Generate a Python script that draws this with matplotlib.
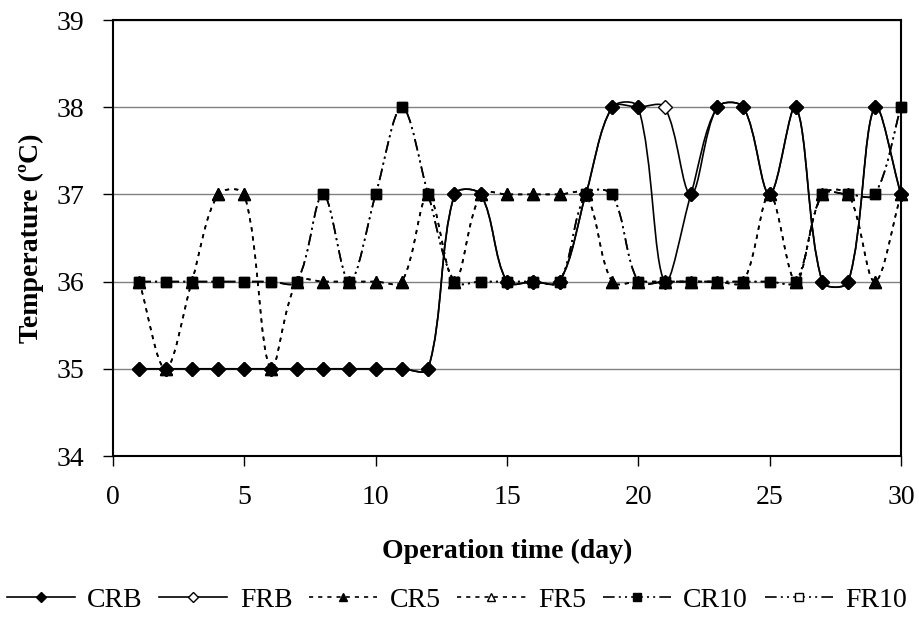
import numpy as np
import matplotlib
matplotlib.use("Agg")
import matplotlib.pyplot as plt
from matplotlib.path import Path
from matplotlib.patches import PathPatch
from matplotlib.lines import Line2D

plt.rcParams['font.family'] = ['Liberation Serif', 'DejaVu Serif']

days = list(range(1, 31))
CRB = [35, 35, 35, 35, 35, 35, 35, 35, 35, 35, 35, 35, 37, 37, 36, 36, 36, 37, 38, 38,
       36, 37, 38, 38, 37, 38, 36, 36, 38, 37]
FRB = [35, 35, 35, 35, 35, 35, 35, 35, 35, 35, 35, 35, 37, 37, 36, 36, 36, 37, 38, 38,
       38, 37, 38, 38, 37, 38, 36, 36, 38, 37]
CR5 = [36, 35, 36, 37, 37, 35, 36, 36, 36, 36, 36, 37, 36, 37, 37, 37, 37, 37, 36, 36,
       36, 36, 36, 36, 37, 36, 37, 37, 36, 37]
FR5 = list(CR5)
CR10 = [36, 36, 36, 36, 36, 36, 36, 37, 36, 37, 38, 37, 36, 36, 36, 36, 36, 37, 37, 36,
        36, 36, 36, 36, 36, 36, 37, 37, 37, 38]
FR10 = list(CR10)

series_names = ['CRB', 'FRB', 'CR5', 'FR5', 'CR10', 'FR10']
series_vals = [CRB, FRB, CR5, FR5, CR10, FR10]

x_ticks = [0, 5, 10, 15, 20, 25, 30]
y_ticks = [34, 35, 36, 37, 38, 39]

FS = 20
fig = plt.figure(figsize=(9.19, 6.22), dpi=100)
ax = fig.add_axes([113/919, 1-456/622, (901-113)/919, (456-20)/622])
ax.set_xlim(0, 30)
ax.set_ylim(34, 39)

dot = (0, (2.5, 3))
dashdd = (0, (7, 2.5, 1.2, 2.5, 1.2, 2.5))
# zorder: open-marker (F) series sit beneath their filled (C) counterparts
styles = {
    'CRB': dict(ls='-', marker='D', mfc='black', ms=7.5, z=4),
    'FRB': dict(ls='-', marker='D', mfc='white', ms=7.5, z=3),
    'CR5': dict(ls=dot, marker='^', mfc='black', ms=8.5, z=6),
    'FR5': dict(ls=dot, marker='^', mfc='white', ms=8.5, z=5),
    'CR10': dict(ls=dashdd, marker='s', mfc='black', ms=7.5, z=8),
    'FR10': dict(ls=dashdd, marker='s', mfc='white', ms=7.5, z=7),
}
LW = 1.2


def smooth_path(xs, ys):
    pts = np.column_stack([xs, ys]).astype(float)
    disp = ax.transData.transform(pts)
    n = len(pts)
    verts = [pts[0]]
    codes = [Path.MOVETO]
    for i in range(n - 1):
        i0 = max(i - 1, 0)
        i3 = min(i + 2, n - 1)
        p0, p1, p2, p3 = pts[i0], pts[i], pts[i + 1], pts[i3]
        d0, d1, d2, d3 = disp[i0], disp[i], disp[i + 1], disp[i3]
        d01 = np.hypot(*(d1 - d0))
        d12 = np.hypot(*(d2 - d1))
        d23 = np.hypot(*(d3 - d2))
        f1 = (1/3) * d12 / (d01 + d12) if d01 + d12 > 0 else 0
        f2 = (1/3) * d12 / (d12 + d23) if d12 + d23 > 0 else 0
        c1 = p1 + (p2 - p0) * f1
        c2 = p2 - (p3 - p1) * f2
        verts += [c1, c2, p2]
        codes += [Path.CURVE4] * 3
    return Path(np.array(verts), codes)


handles = []
for name, vals in zip(series_names, series_vals):
    st = styles[name]
    patch = PathPatch(smooth_path(days, vals), fill=False, edgecolor='black',
                      lw=LW, linestyle=st['ls'], capstyle='butt', zorder=st['z'])
    ax.add_patch(patch)
    ax.plot(days, vals, linestyle='none', marker=st['marker'], ms=st['ms'],
            mfc=st['mfc'], mec='black', mew=1.0, zorder=st['z'] + 0.5, clip_on=False)
    handles.append(Line2D([], [], color='black', lw=LW, linestyle=st['ls'],
                          marker=st['marker'], ms=st['ms'] * 0.7, mfc=st['mfc'],
                          mec='black', mew=1.0))

ax.set_xticks(x_ticks)
ax.set_yticks(y_ticks)
ax.yaxis.grid(True, color='#808080', lw=1.0, zorder=0)
ax.set_axisbelow(True)
for s in ax.spines.values():
    s.set_linewidth(1.5)
    s.set_color('black')
    s.set_zorder(10)
ax.tick_params(axis='both', direction='out', length=7, width=1, labelsize=FS, pad=14)

ax.set_xlabel('Operation time (day)', fontsize=FS, fontweight='bold', labelpad=21)
ax.set_ylabel('Temperature (ºC)', fontsize=FS, fontweight='bold', labelpad=9)

fig.legend(handles, series_names, loc='center', bbox_to_anchor=(0.497, 22/622),
           ncol=6, frameon=False, fontsize=FS, numpoints=1, handlelength=2.45,
           handletextpad=0.45, columnspacing=0.6, borderaxespad=0, borderpad=0)

fig.savefig('out.png', dpi=100)
